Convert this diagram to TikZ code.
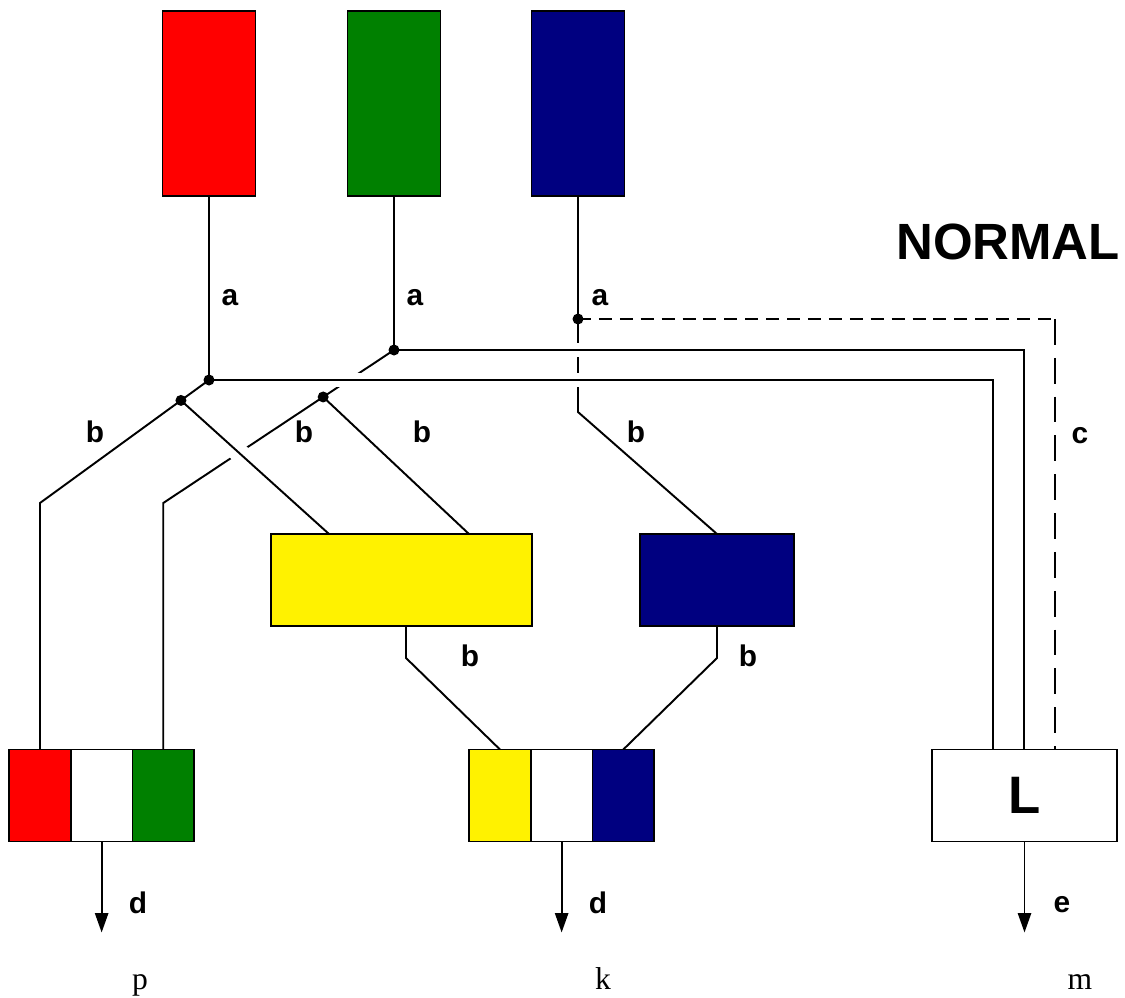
\documentclass[tikz,border=0pt]{standalone}
\usepackage{fontspec}
\setmainfont{Liberation Serif}
\newfontfamily\labelfont{Liberation Sans}
\usetikzlibrary{positioning,arrows.meta,calc,backgrounds}
\definecolor{navyblue}{RGB}{0,0,128}
\definecolor{darkgreen}{RGB}{0,128,0}
\tikzset{
  tall/.style={draw,line width=0.9pt,minimum width=1.86cm,minimum height=3.7cm,outer sep=0pt},
  wide/.style={draw,line width=0.9pt,minimum height=1.84cm,outer sep=0pt},
  cell/.style={draw,line width=0.9pt,minimum width=1.233cm,minimum height=1.84cm,outer sep=0pt,inner sep=0pt},
  lbl/.style={font=\labelfont\bfseries\fontsize{17pt}{17pt}\selectfont,inner sep=0pt},
  lower/.style={font=\fontsize{18pt}{18pt}\selectfont,inner sep=0pt},
  wire/.style={line width=1.1pt},
  bridge/.style={preaction={draw=white,line width=#1}},
}
\begin{document}
\begin{tikzpicture}[x=0.02cm,y=-0.02cm]
\useasboundingbox (0,0) rectangle (1125,997);
% sources
\node[tall,fill=red] (topR) at (209,103.5) {};
\node[tall,fill=darkgreen] (topG) at (394,103.5) {};
\node[tall,fill=navyblue] (topB) at (578,103.5) {};
% middle boxes
\node[wide,fill=yellow,minimum width=5.22cm] (yel) at (401.5,580) {};
\node[wide,fill=navyblue,minimum width=3.08cm] (nav) at (717,580) {};
% outputs
\node[cell,fill=red] (p1) at (40,795.5) {};
\node[cell,right=0pt of p1] (p2) {};
\node[cell,fill=darkgreen,right=0pt of p2] (p3) {};
\node[cell,fill=yellow] (k1) at (500,795.5) {};
\node[cell,right=0pt of k1] (k2) {};
\node[cell,fill=navyblue,right=0pt of k2] (k3) {};
\node[wide,minimum width=3.7cm,font=\labelfont\bfseries\fontsize{30pt}{30pt}\selectfont] (L) at (1024.5,795.5) {L};
% junctions and bends
\coordinate (rJ) at (209,380);
\coordinate (rL) at (p1.north |- 0,503);
\coordinate (rK) at ($(rJ)!0.166!(rL)$);
\coordinate (rE) at (993,380);
\coordinate (gJ) at (394,350);
\coordinate (gL) at (p3.north |- rL);
\coordinate (gK) at ($(gJ)!0.307!(gL)$);
\coordinate (gE) at (1024,350);
\coordinate (bJ) at (578,319);
\coordinate (bK) at (578,412);
\coordinate (bE) at (1055,319);
\coordinate (yIn1) at ([xshift=1.16cm]yel.north west);
\coordinate (yIn2) at ([xshift=3.96cm]yel.north west);
\coordinate (yOut) at (406,658);
\coordinate (nOut) at (717,658);
\coordinate (pEnd) at ([yshift=-1.82cm]p2.south);
\coordinate (kEnd) at ([yshift=-1.82cm]k2.south);
\coordinate (mEnd) at ([yshift=-1.82cm]L.south);
\begin{scope}[on background layer]
  % blue
  \draw[wire] (topB.south) -- (bJ) -- (bK) -- (nav.north);
  \draw[wire,dash pattern=on 7.4pt off 4.5pt] (bJ) -- (bE);
  \draw[wire,dash pattern=on 14.7pt off 7.4pt] (bE) -- (bE |- L.north);
  % green
  \draw[wire,bridge=7.5pt] (topG.south) -- (gJ) -- (gE) -- (gE |- L.north);
  \draw[wire] (gJ) -- (gL) -- (p3.north);
  \draw[wire] (gK) -- (yIn2);
  % red
  \draw[wire,bridge=7.5pt] (topR.south) -- (rJ) -- (rE) -- (rE |- L.north);
  \draw[wire,bridge=11pt] (rK) -- (yIn1);
  \draw[wire] (rJ) -- (rL) -- (p1.north);
  % mixing
  \draw[wire] (yel.south -| yOut) -- (yOut) -- (k1.north);
  \draw[wire] (nav.south) -- (nOut) -- (k3.north);
  \draw[wire,-{Triangle[length=11pt,width=7.5pt]}] (p2.south) -- (pEnd);
  \draw[wire,-{Triangle[length=11pt,width=7.5pt]}] (k2.south) -- (kEnd);
  \draw[wire,-{Triangle[length=11pt,width=7.5pt]}] (L.south) -- (mEnd);
\end{scope}
\foreach \j in {rJ,rK,gJ,gK,bJ}
  \fill (\j) circle (0.11cm);
% labels
\node[lbl] (a1) at (230,298) {a};
\node[lbl] (a2) at (415,298) {a};
\node[lbl] (a3) at (600,298) {a};
\node[lbl] (b1) at (95,432) {b};
\node[lbl] (b2) at (304,432) {b};
\node[lbl] (b3) at (422,432) {b};
\node[lbl] (b4) at (636,432) {b};
\node[lbl] (b5) at (470,656) {b};
\node[lbl] (b6) at (748,656) {b};
\node[lbl] (c1) at (1080,436) {c};
\node[lbl] (d1) at (138,903) {d};
\node[lbl] (d2) at (598,903) {d};
\node[lbl] (e1) at (1062,905) {e};
\node[font=\labelfont\bfseries\fontsize{29pt}{29pt}\selectfont,inner sep=0pt] (title) at (1008,241.5) {NORMAL};
\node[lower] (pTxt) at (140,985) {p};
\node[lower] (kTxt) at (603,979) {k};
\node[lower] (mTxt) at (1080,982) {m};
\end{tikzpicture}
\end{document}
